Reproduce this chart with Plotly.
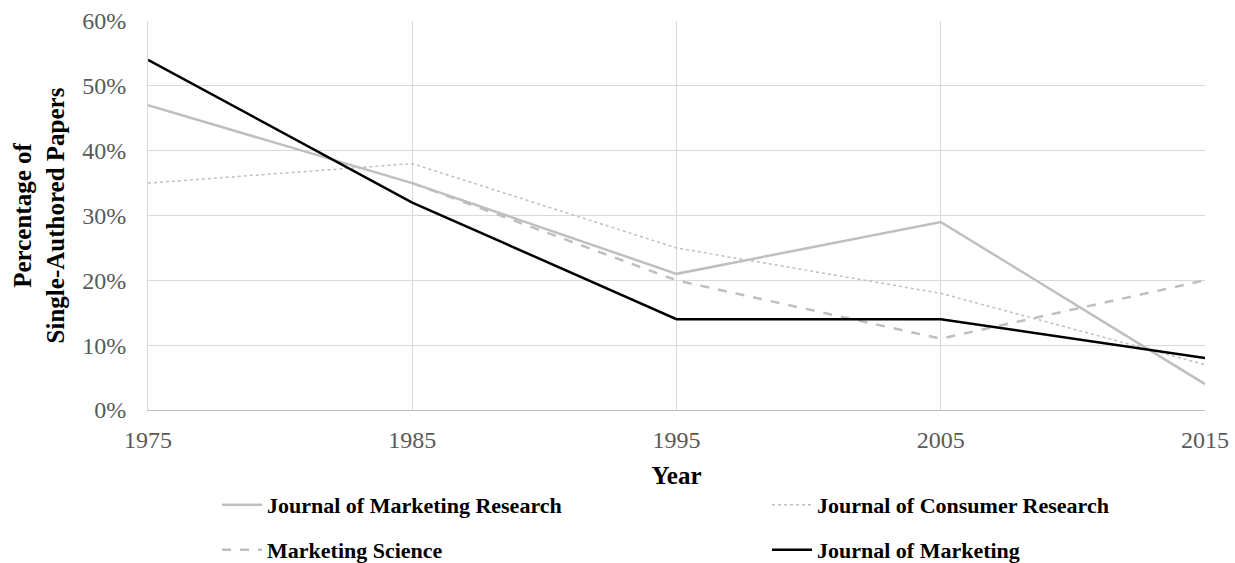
import plotly.graph_objects as go

years = [1975, 1985, 1995, 2005, 2015]
jmr = [47, 35, 21, 29, 4]
jcr = [35, 38, 25, 18, 7]
ms_years = [1985, 1995, 2005, 2015]
ms = [35, 20, 11, 20]
jm = [54, 32, 14, 14, 8]

fig = go.Figure()
fig.add_trace(go.Scatter(x=years, y=jmr, mode="lines", name="Journal of Marketing Research",
                         line=dict(color="#bfbfbf", width=2.5), legend="legend"))
fig.add_trace(go.Scatter(x=years, y=jcr, mode="lines", name="Journal of Consumer Research",
                         line=dict(color="#bfbfbf", width=1.5, dash="dot"), legend="legend2"))
fig.add_trace(go.Scatter(x=ms_years, y=ms, mode="lines", name="Marketing Science",
                         line=dict(color="#bfbfbf", width=2.5, dash="dash"), legend="legend3"))
fig.add_trace(go.Scatter(x=years, y=jm, mode="lines", name="Journal of Marketing",
                         line=dict(color="#000000", width=2.5), legend="legend4"))

legfont = dict(family="Liberation Serif", size=22, color="black", weight="bold")
def leg(x, y):
    return dict(x=x, y=y, xanchor="left", yanchor="middle", font=legfont,
                itemwidth=40, bgcolor="rgba(0,0,0,0)")

fig.update_layout(
    width=1235, height=563,
    margin=dict(l=148, r=30, t=21, b=153, autoexpand=False),
    plot_bgcolor="white", paper_bgcolor="white",
    font=dict(family="Liberation Serif", color="#595959"),
    showlegend=True,
    legend=leg(0.0653, -0.244),
    legend2=leg(0.5856, -0.244),
    legend3=leg(0.0653, -0.36),
    legend4=leg(0.5856, -0.36),
    xaxis=dict(range=[1975, 2015], tickvals=years, ticktext=[str(y) for y in years],
               showgrid=True, gridcolor="#d9d9d9", gridwidth=1, automargin=False,
               showline=True, linecolor="#bfbfbf", linewidth=1, zeroline=False,
               tickfont=dict(size=24, color="#595959"), ticks="", ticklabelstandoff=8,
               title=dict(text="<b>Year</b>", font=dict(size=25, color="black"), standoff=14)),
    yaxis=dict(range=[0, 60], tickvals=[0, 10, 20, 30, 40, 50, 60],
               ticktext=["0%", "10%", "20%", "30%", "40%", "50%", "60%"],
               showgrid=True, gridcolor="#d9d9d9", gridwidth=1, automargin=False,
               showline=True, linecolor="#d9d9d9", zeroline=False,
               tickfont=dict(size=24, color="#595959"), ticks="", ticklabelstandoff=16,
               title=dict(text="<b>Percentage of<br>Single-Authored Papers</b>",
                          font=dict(size=25, color="black"), standoff=10)),
)

fig.write_html("out.html", config={"displayModeBar": False},
               post_script="document.body.style.margin='0';")
